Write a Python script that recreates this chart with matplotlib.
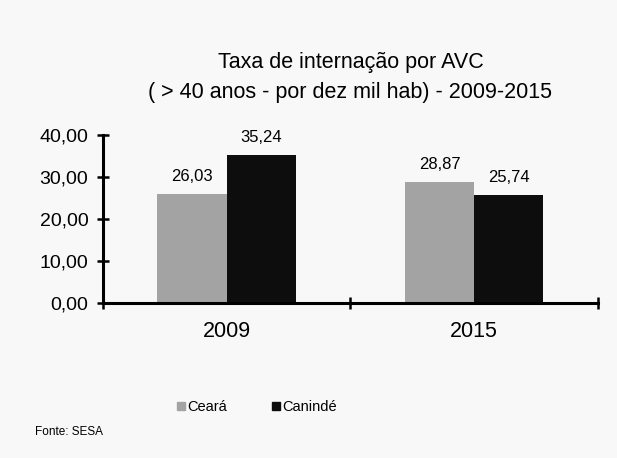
import matplotlib
matplotlib.use('Agg')

import matplotlib.pyplot as plt
import matplotlib.ticker as ticker
import numpy as np
from matplotlib.lines import Line2D

years = ["2009", "2015"]
ceara = [26.03, 28.87]
caninde = [35.24, 25.74]
series_names = ["Ceará", "Canindé"]
y_ticks = [0, 10, 20, 30, 40]


def fmt_br(v):
    return f"{v:.2f}".replace(".", ",")


plt.rcParams["font.family"] = ["Liberation Sans", "DejaVu Sans"]

fig = plt.figure(figsize=(6.17, 4.58), dpi=100, facecolor="#f8f8f8")
ax = fig.add_axes([0.167, 0.338, 0.802, 0.367])
ax.set_facecolor("#f8f8f8")

x = np.arange(len(years))
w = 0.28
colors = ["#a3a3a3", "#0d0d0d"]
b1 = ax.bar(x - w / 2, ceara, w, color=colors[0])
b2 = ax.bar(x + w / 2, caninde, w, color=colors[1])

for bars in (b1, b2):
    for bar in bars:
        h = bar.get_height()
        ax.annotate(fmt_br(h), xy=(bar.get_x() + bar.get_width() / 2, h),
                    xytext=(0, 7), textcoords="offset points",
                    ha="center", va="bottom", fontsize=12)

ax.set_xlim(-0.5, 1.5)
ax.set_ylim(0, 40)
ax.set_yticks(y_ticks)
ax.yaxis.set_major_formatter(ticker.FuncFormatter(lambda v, p: fmt_br(v)))
ax.set_xticks(x)
ax.set_xticklabels(years, fontsize=15.5)
ax.set_xticks([-0.5, 0.5, 1.5], minor=True)
ax.tick_params(axis="x", which="major", length=0, pad=13)
ax.tick_params(axis="x", which="minor", direction="inout", length=9, width=1.8)
ax.tick_params(axis="y", direction="inout", length=9, width=1.8, labelsize=14, pad=6)

for s in ("top", "right"):
    ax.spines[s].set_visible(False)
for s in ("left", "bottom"):
    ax.spines[s].set_linewidth(2.2)

ax.set_title("Taxa de internação por AVC\n( > 40 anos - por dez mil hab) - 2009-2015",
             fontsize=15.5, pad=27, linespacing=1.55)

handles = [Line2D([], [], marker="s", linestyle="none", markersize=5.5,
                  color=c) for c in colors]
fig.legend(handles, series_names, loc="center", bbox_to_anchor=(0.415, 0.111),
           ncol=2, frameon=False, fontsize=10.5, handletextpad=0.0,
           columnspacing=3.0, handlelength=0.8)

fig.text(0.057, 0.05, "Fonte: SESA", fontsize=8.5)

plt.savefig("out.png", dpi=100, facecolor=fig.get_facecolor())
plt.close(fig)
